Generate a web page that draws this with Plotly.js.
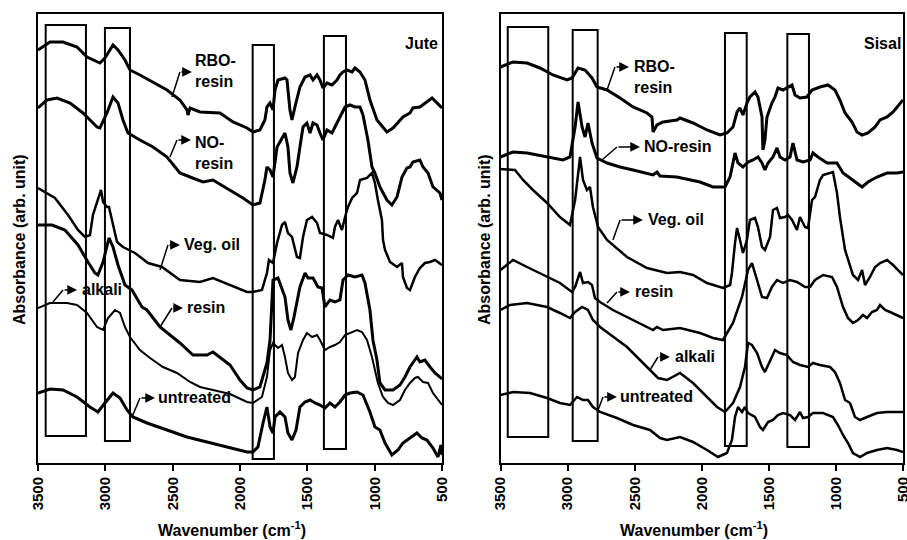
<!DOCTYPE html>
<html>
<head>
<meta charset="utf-8">
<script src="https://cdn.plot.ly/plotly-3.0.1.min.js"></script>
<style>html,body{margin:0;padding:0;background:#fff;}#chart{width:907px;height:540px;}</style>
</head>
<body>
<div id="chart"></div>
<script>
// ---------- Tick labels ----------
const tickVals = [3500, 3000, 2500, 2000, 1500, 1000, 500];
const tickText = ['3500', '3000', '2500', '2000', '1500', '1000', '500'];

// ---------- Jute panel (wavenumber, absorbance in arb. unit) ----------
const juteRboWn = [3500,3411,3314,3210,3188,3136,3040,3003,2943,2906,2854,2817,2743,2646,2542,2446,2394,2386,2371,2297,2149,2052,1948,1904,1852,1815,1800,1777,1755,1740,1718,1666,1651,1629,1614,1592,1555,1517,1480,1458,1428,1406,1384,1354,1317,1280,1258,1235,1206,1168,1146,1109,1072,1035,983,909,864,790,738,716,664,574,537,500];
const juteRboAbs = [413,421,421,416,413,406,400,405,418,413,403,393,388,381,373,363,353,348,355,351,350,341,335,331,333,343,356,360,353,373,383,385,383,353,343,356,376,386,388,383,388,383,375,380,378,383,388,391,393,391,395,391,383,363,343,331,335,346,350,355,356,365,360,355];

const juteNoWn = [3500,3433,3359,3262,3166,3062,3040,2988,2943,2906,2869,2832,2743,2646,2542,2446,2371,2275,2201,2074,1978,1904,1852,1815,1800,1777,1755,1725,1703,1666,1644,1629,1607,1577,1555,1532,1503,1480,1458,1428,1406,1384,1354,1317,1295,1258,1220,1183,1146,1109,1087,1050,1020,998,961,909,872,834,797,760,738,716,664,641,604,567,537,515,500];
const juteNoAbs = [355,363,365,360,350,336,335,350,366,360,343,330,323,316,306,290,286,281,283,273,265,258,260,283,296,293,286,316,321,330,316,290,280,296,316,336,340,330,340,338,330,323,333,330,336,346,356,358,356,356,348,323,296,290,276,263,258,266,286,295,296,301,303,296,290,276,273,270,263];

const juteVegWn = [3500,3374,3277,3203,3151,3114,3092,3062,3032,3017,2988,2973,2943,2913,2869,2780,2683,2579,2446,2297,2201,2074,1948,1904,1837,1800,1785,1755,1725,1688,1666,1644,1614,1577,1555,1532,1503,1465,1428,1406,1354,1310,1295,1272,1243,1220,1198,1168,1131,1109,1057,1020,998,976,946,938,923,886,834,797,790,760,738,701,664,627,589,552,515,500];
const juteVegAbs = [275,265,248,233,226,228,248,261,273,261,256,256,238,221,216,210,200,196,183,181,185,178,171,171,173,190,203,200,220,238,241,230,226,206,205,226,243,246,240,230,228,225,236,243,233,246,256,265,270,283,285,290,280,263,243,223,213,201,196,200,186,175,173,186,195,200,201,203,200,198];

const juteResinWn = [3500,3396,3300,3203,3129,3077,3055,3017,2973,2943,2906,2854,2802,2728,2691,2594,2446,2349,2245,2201,2074,2000,1948,1904,1852,1800,1777,1763,1755,1718,1666,1644,1622,1599,1569,1555,1517,1495,1458,1421,1391,1369,1332,1295,1258,1235,1198,1146,1094,1072,1035,1013,983,961,923,864,812,775,738,716,686,664,627,589,552,515,500];
const juteResinAbs = [238,238,233,218,201,190,188,201,225,216,198,178,173,156,153,136,120,108,108,111,98,83,75,73,76,100,123,173,183,185,166,143,133,146,166,176,190,185,185,176,175,156,163,161,163,183,188,186,188,180,153,123,103,80,73,73,78,86,96,100,106,101,103,96,90,86,84];

const juteAlkaliWn = [3500,3411,3285,3210,3136,3062,3017,2980,2928,2891,2854,2817,2743,2668,2572,2468,2371,2297,2201,2074,1948,1904,1837,1800,1777,1755,1718,1688,1666,1644,1614,1592,1569,1532,1503,1465,1428,1406,1369,1332,1295,1258,1220,1168,1131,1094,1057,1020,998,976,938,901,864,812,775,738,701,679,641,604,567,515,500];
const juteAlkaliAbs = [155,160,160,158,150,136,133,145,153,150,136,126,113,105,96,90,81,76,73,69,61,60,66,86,113,120,115,118,106,90,83,86,110,123,130,126,128,123,113,116,118,121,128,131,133,131,123,106,93,80,66,60,58,63,73,80,85,86,81,80,70,60,58];

const juteUntrWn = [3500,3411,3314,3210,3114,3055,3003,2943,2891,2839,2795,2691,2542,2394,2245,2074,1948,1904,1867,1829,1800,1777,1755,1740,1703,1666,1644,1614,1584,1555,1517,1480,1443,1406,1369,1332,1295,1258,1220,1183,1131,1087,1035,998,961,923,872,827,790,738,686,649,612,567,530,508,500];
const juteUntrAbs = [70,74,73,66,56,51,60,70,65,53,46,40,33,26,21,15,11,11,16,40,56,36,30,46,51,46,30,23,33,56,61,63,60,58,55,60,56,61,68,70,71,68,51,36,33,20,8,13,20,25,30,25,23,15,6,18,8];

// ---------- Sisal panel ----------
const sisalRboWn = [3500,3407,3302,3206,3109,3004,2967,2922,2870,2818,2781,2706,2609,2512,2408,2371,2363,2334,2289,2185,2162,2065,1961,1864,1812,1767,1737,1715,1693,1663,1641,1603,1581,1551,1544,1529,1514,1477,1454,1432,1394,1357,1327,1305,1268,1216,1178,1119,1059,1007,970,932,880,843,805,761,708,671,619,574,522,500];
const sisalRboAbs = [396,401,400,395,388,383,385,395,393,385,376,373,365,356,350,346,331,338,341,343,345,340,333,328,330,336,351,355,348,360,366,371,366,346,313,323,346,360,366,375,373,376,378,368,365,366,373,376,378,373,363,350,341,331,328,330,336,343,346,351,360,363];

const sisalNoWn = [3500,3407,3302,3153,3034,2982,2944,2922,2892,2870,2848,2818,2781,2706,2609,2512,2408,2363,2334,2311,2185,2013,1916,1827,1789,1752,1730,1693,1655,1618,1581,1551,1529,1506,1469,1439,1417,1380,1342,1320,1290,1245,1193,1171,1134,1066,992,947,895,843,805,761,694,619,545,500];
const sisalNoAbs = [306,311,310,306,303,306,336,361,336,326,340,320,305,300,296,293,290,288,291,287,286,281,276,276,286,310,300,296,301,303,306,300,293,300,306,315,306,303,306,320,303,301,303,310,306,300,300,290,285,280,276,281,286,290,290,291];

const sisalVegWn = [3500,3392,3332,3258,3153,3057,2982,2944,2907,2885,2856,2833,2811,2773,2706,2557,2408,2259,2162,2065,1961,1842,1789,1775,1752,1737,1715,1693,1663,1641,1603,1581,1551,1529,1491,1469,1439,1417,1380,1357,1327,1290,1268,1230,1208,1178,1156,1119,1096,1044,1022,992,970,932,910,873,835,805,783,746,708,671,619,574,500];
const sisalVegAbs = [294,293,283,273,260,246,238,263,306,283,273,276,256,236,223,206,195,190,191,188,180,175,178,190,220,235,223,210,223,243,245,236,216,213,226,253,255,245,246,248,243,233,246,236,235,263,266,283,288,290,291,270,246,213,203,188,183,193,178,186,196,200,203,198,188];

const sisalResinWn = [3500,3407,3302,3153,3057,2967,2944,2907,2885,2848,2818,2796,2758,2662,2557,2438,2363,2334,2289,2162,2013,1916,1842,1767,1700,1655,1626,1588,1551,1514,1477,1439,1394,1342,1290,1230,1193,1156,1096,1029,992,947,910,873,835,798,768,731,694,671,634,597,545,500];
const sisalResinAbs = [193,203,196,186,180,171,176,191,180,181,178,165,161,153,146,138,133,136,133,135,130,125,123,140,166,193,200,183,166,165,176,183,180,183,181,176,176,183,188,186,176,156,145,140,143,148,145,151,153,158,153,151,148,145];

const sisalAlkaliWn = [3500,3429,3302,3153,3057,2982,2944,2892,2848,2811,2758,2662,2557,2460,2386,2326,2259,2162,2065,1961,1886,1827,1767,1715,1678,1655,1626,1588,1551,1529,1491,1454,1417,1365,1320,1268,1208,1171,1119,1044,1007,970,932,895,858,820,768,694,619,500];
const sisalAlkaliAbs = [153,158,160,156,150,145,151,156,153,143,136,126,116,103,93,85,83,90,80,66,56,51,60,76,96,120,118,110,96,91,103,113,110,108,101,98,96,100,98,96,91,80,63,60,46,43,46,50,51,51];

const sisalUntrWn = [3500,3407,3280,3153,3057,2982,2930,2885,2848,2811,2758,2632,2512,2386,2311,2259,2162,2065,1961,1879,1812,1775,1752,1730,1700,1678,1655,1626,1603,1566,1544,1506,1469,1432,1394,1342,1305,1268,1245,1208,1171,1096,1022,985,947,910,873,820,768,694,619,545,500];
const sisalUntrAbs = [68,71,70,65,60,58,66,63,63,56,51,45,38,33,25,23,26,21,13,6,10,23,46,56,51,56,50,48,46,36,33,41,43,48,50,48,43,51,45,46,50,50,46,38,28,20,10,6,10,13,15,13,11];

// ---------- Marked bands (wavenumber ranges) ----------
const juteBands = [[3443,3144,27,438],[3003,2817,22,435],[1906,1748,4,418],[1377,1213,14,427]];
const sisalBands = [[3446,3144,26,436],[2962,2776,22,433],[1827,1665,17,430],[1362,1201,16,429]];

const FONT = 'Liberation Sans, Arial, Helvetica, sans-serif';
const BLACK = '#000000';

function line(x, y, ax, w) {
  return {x: x, y: y, type: 'scatter', mode: 'lines', xaxis: ax === 1 ? 'x' : 'x2', yaxis: ax === 1 ? 'y' : 'y2',
    line: {color: BLACK, width: w}, hoverinfo: 'skip', showlegend: false};
}

const data = [
  line(juteRboWn, juteRboAbs, 1, 3),
  line(juteNoWn, juteNoAbs, 1, 3),
  line(juteVegWn, juteVegAbs, 1, 2.5),
  line(juteResinWn, juteResinAbs, 1, 3),
  line(juteAlkaliWn, juteAlkaliAbs, 1, 2),
  line(juteUntrWn, juteUntrAbs, 1, 3),
  line(sisalRboWn, sisalRboAbs, 2, 3),
  line(sisalNoWn, sisalNoAbs, 2, 3),
  line(sisalVegWn, sisalVegAbs, 2, 2.5),
  line(sisalResinWn, sisalResinAbs, 2, 2.5),
  line(sisalAlkaliWn, sisalAlkaliAbs, 2, 2.5),
  line(sisalUntrWn, sisalUntrAbs, 2, 2.5)
];

function xAxis(domain, anchor) {
  return {domain: domain, anchor: anchor, range: [3500, 500], tickmode: 'array', tickvals: tickVals, ticktext: tickText,
    tickangle: -90, ticks: 'outside', ticklen: 6, tickwidth: 2, tickcolor: BLACK, ticklabeloverflow: 'allow',
    showline: true, linecolor: BLACK, linewidth: 2, mirror: true, showgrid: false, zeroline: false,
    tickfont: {family: FONT, size: 15, color: BLACK, weight: 'bold'}};
}
function yAxis(anchor) {
  return {domain: [0.1426, 0.9741], anchor: anchor, range: [0, 449], showticklabels: false, ticks: '',
    showline: true, linecolor: BLACK, linewidth: 2, mirror: true, showgrid: false, zeroline: false};
}

const shapes = [];
juteBands.forEach(b => shapes.push({type: 'rect', xref: 'x', yref: 'y', x0: b[0], x1: b[1], y0: b[2], y1: b[3], line: {color: BLACK, width: 2}, fillcolor: 'rgba(0,0,0,0)'}));
sisalBands.forEach(b => shapes.push({type: 'rect', xref: 'x2', yref: 'y2', x0: b[0], x1: b[1], y0: b[2], y1: b[3], line: {color: BLACK, width: 2}, fillcolor: 'rgba(0,0,0,0)'}));

const annotations = [];
function label(ax, x, y, text) {
  annotations.push({xref: ax === 1 ? 'x' : 'x2', yref: ax === 1 ? 'y' : 'y2', x: x, y: y, text: '<b>' + text + '</b>',
    showarrow: false, xanchor: 'left', yanchor: 'middle', align: 'left', font: {family: FONT, size: 16, color: BLACK}});
}
// pointer: curve point -> corner (line), corner -> tip (arrow)
function pointer(ax, cx, cy, kx, ky, tx) {
  const xr = ax === 1 ? 'x' : 'x2', yr = ax === 1 ? 'y' : 'y2';
  shapes.push({type: 'line', xref: xr, yref: yr, x0: cx, y0: cy, x1: kx, y1: ky, line: {color: BLACK, width: 1.5}});
  annotations.push({xref: xr, yref: yr, x: tx, y: ky, axref: xr, ayref: yr, ax: kx, ay: ky, text: '',
    showarrow: true, arrowhead: 2, arrowsize: 1.3, arrowwidth: 1.5, arrowcolor: BLACK, standoff: 0});
}

// Jute labels
label(1, 2349, 392, 'RBO-<br>resin');   pointer(1, 2505, 366, 2446, 391, 2357);
label(1, 2349, 310, 'NO-<br>resin');    pointer(1, 2520, 306, 2468, 323, 2364);
label(1, 2431, 218, 'Veg. oil');        pointer(1, 2594, 193, 2535, 218, 2446);
label(1, 3188, 173, 'alkali');          pointer(1, 3389, 161, 3314, 173, 3210);
label(1, 2409, 155, 'resin');           pointer(1, 2594, 136, 2505, 155, 2423);
label(1, 2624, 65, 'untreated');        pointer(1, 2802, 46, 2743, 65, 2631);
label(1, 790, 419, 'Jute');
// Sisal labels
label(2, 2520, 386, 'RBO-<br>resin');   pointer(2, 2706, 373, 2647, 396, 2542);
label(2, 2445, 316, 'NO-resin');        pointer(2, 2744, 303, 2632, 316, 2460);
label(2, 2415, 243, 'Veg. oil');        pointer(2, 2662, 223, 2609, 243, 2438);
label(2, 2512, 171, 'resin');           pointer(2, 2706, 160, 2632, 171, 2535);
label(2, 2214, 106, 'alkali');          pointer(2, 2386, 93, 2326, 106, 2237);
label(2, 2624, 66, 'untreated');        pointer(2, 2773, 53, 2736, 66, 2632);
label(2, 806, 419, 'Sisal');

// Axis titles
function paperText(x, y, text, angle) {
  annotations.push({xref: 'paper', yref: 'paper', x: x, y: y, text: '<b>' + text + '</b>', showarrow: false,
    xanchor: 'center', yanchor: 'middle', textangle: angle, font: {family: FONT, size: 16, color: BLACK}});
}
paperText(232 / 907, 1 - 529 / 540, 'Wavenumber (cm<sup>-1</sup>)', 0);
paperText(694 / 907, 1 - 529 / 540, 'Wavenumber (cm<sup>-1</sup>)', 0);
paperText(19 / 907, 1 - 240 / 540, 'Absorbance (arb. unit)', -90);
paperText(484 / 907, 1 - 240 / 540, 'Absorbance (arb. unit)', -90);

const layout = {
  width: 907, height: 540, margin: {l: 0, r: 0, t: 0, b: 0},
  paper_bgcolor: '#ffffff', plot_bgcolor: '#ffffff', showlegend: false,
  xaxis: xAxis([38 / 907, 442 / 907], 'y'),
  yaxis: yAxis('x'),
  xaxis2: xAxis([500.5 / 907, 903 / 907], 'y2'),
  yaxis2: yAxis('x2'),
  shapes: shapes, annotations: annotations
};

Plotly.newPlot('chart', data, layout, {displayModeBar: false, staticPlot: true});
</script>
</body>
</html>
